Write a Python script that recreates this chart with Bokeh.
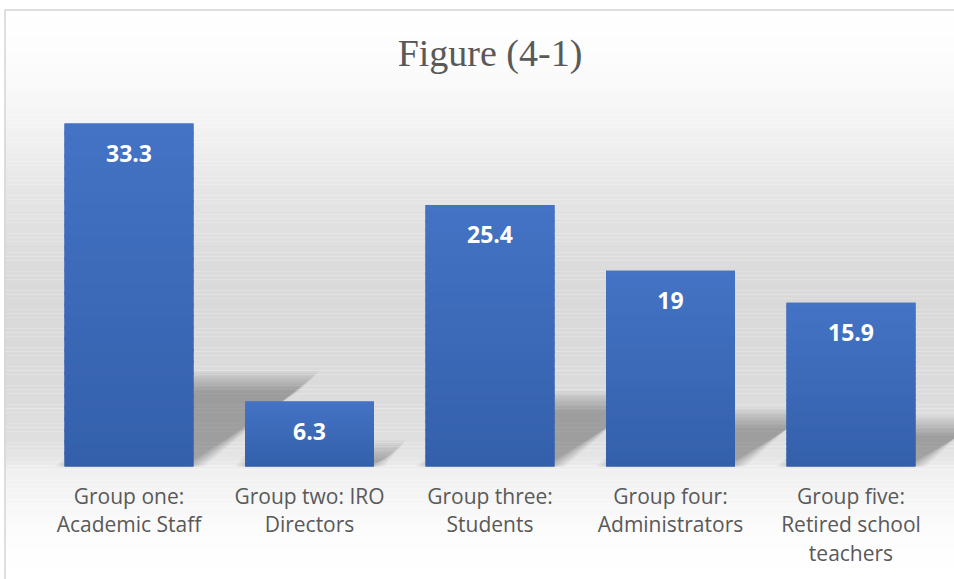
import numpy as np
from bokeh.plotting import figure
from bokeh.models import Range1d
from bokeh.core.properties import value
from bokeh.embed import file_html
from bokeh.resources import INLINE

# ---------------- data ----------------
title_text = "Figure (4-1)"
categories = [
    "Group one:\nAcademic Staff",
    "Group two: IRO\nDirectors",
    "Group three:\nStudents",
    "Group four:\nAdministrators",
    "Group five:\nRetired school\nteachers",
]
values = [33.3, 6.3, 25.4, 19, 15.9]
value_labels = ["33.3", "6.3", "25.4", "19", "15.9"]

# ---------------- layout constants ----------------
W, H = 954, 579
CAT_PX = 180.5        # pixels per category
PX = 10.3             # pixels per value unit
FIRST_CENTER = 128.5  # px of first category centre
BASE_Y = 466          # px (from top) of value 0
BW = 129 / CAT_PX     # bar width in category units

x0 = -FIRST_CENTER / CAT_PX
x1 = x0 + W / CAT_PX
y1 = BASE_Y / PX
y0 = y1 - H / PX


def ydata(py):
    return (BASE_Y - py) / PX


def xdata(px):
    return x0 + px / CAT_PX


p = figure(width=W, height=H, x_range=Range1d(x0, x1), y_range=Range1d(y0, y1),
           output_backend="svg", toolbar_location=None, title=None,
           x_axis_location=None, y_axis_location=None, min_border=0,
           outline_line_color=None,
           background_fill_color="white", border_fill_color="white")
for g in p.grid:
    g.visible = False

# ---------------- background gradient ----------------
stop_y = [9, 60, 100, 150, 200, 250, 300, 380, 440, 462, 470, 500, 540, 579]
stop_g = [255, 252, 247, 238, 228, 221, 217, 219, 223, 232, 240, 246, 253, 255]
nb = 150
edges = np.linspace(9, 579, nb + 1)
mids = (edges[:-1] + edges[1:]) / 2
gl = np.interp(mids, stop_y, stop_g).round().astype(int)
bg_colors = ["#%02x%02x%02x" % (g, g, g) for g in gl]
p.quad(left=xdata(4), right=x1, top=[ydata(e) for e in edges[:-1]],
       bottom=[ydata(e) for e in edges[1:]], fill_color=bg_colors,
       line_color=None)

# chart border
p.quad(left=[xdata(4.5)], right=[xdata(W + 5)], top=[ydata(9.5)], bottom=[ydata(H + 5)],
       fill_color=None, line_color="#d4d4d4", line_width=1.5)

# ---------------- cast shadows ----------------
n_layers = 9
blur = 10.0
alpha = 0.034
for j in range(n_layers):
    d = blur * (2 * j / (n_layers - 1) - 1)
    dxp = d / CAT_PX
    dyp = d / PX
    xs, ys = [], []
    for i, v in enumerate(values):
        left = i - BW / 2
        right = i + BW / 2
        sh = 0.25 * v
        dx = 0.34 * v * PX / CAT_PX
        xs.append([left - dxp, right + dxp, right + dx + dxp, left + dx - dxp])
        ys.append([0, 0, max(sh + dyp, 0), max(sh + dyp, 0)])
    p.patches(xs=xs, ys=ys, fill_color="black", fill_alpha=alpha, line_color=None)

# ---------------- bars (gradient) ----------------
idx = list(range(len(values)))
p.vbar(x=idx, top=values, bottom=0, width=BW, fill_color="#3b67b6", line_color=None)

top_c = np.array([68, 115, 197])
bot_c = np.array([52, 96, 171])
ns = 30
sx, sb, st, sc = [], [], [], []
for i, v in enumerate(values):
    for k in range(ns):
        t = (k + 0.5) / ns
        c = (bot_c + (top_c - bot_c) * t).round().astype(int)
        sx.append(i)
        sb.append(v * k / ns)
        st.append(v * (k + 1) / ns + (0.0 if k == ns - 1 else v * 0.3 / ns))
        sc.append("#%02x%02x%02x" % tuple(c))
p.vbar(x=sx, bottom=sb, top=st, width=BW, fill_color=sc, line_color=None)

# ---------------- data labels ----------------
p.text(x=idx, y=[v - 29.5 / PX for v in values], text=value_labels,
       text_font=value("Open Sans"), text_font_style="bold",
       text_font_size="23px", text_color="white",
       text_align="center", text_baseline="middle")

# ---------------- category labels ----------------
p.text(x=idx, y=[ydata(481)] * len(idx), text=categories,
       text_font=value("Open Sans"), text_font_size="21px",
       text_color="#595959", text_align="center", text_baseline="top",
       text_line_height=1.03)

# ---------------- title ----------------
p.text(x=[(len(values) - 1) / 2], y=[ydata(52)], text=[title_text],
       text_font=value("Liberation Serif"), text_font_size="38px",
       text_color="#595959", text_align="center", text_baseline="middle")

open("out.html", "w").write(file_html(p, INLINE))
